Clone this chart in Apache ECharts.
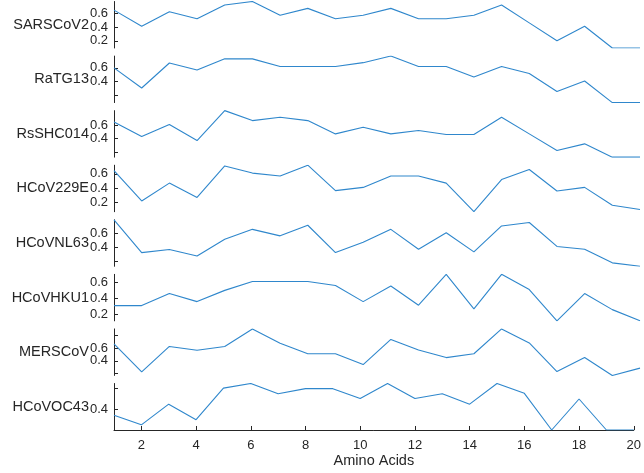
<!DOCTYPE html>
<html>
<head>
<meta charset="utf-8">
<script src="https://cdn.jsdelivr.net/npm/echarts@6/dist/echarts.min.js"></script>
<style>
html, body { margin: 0; padding: 0; background: #fff; }
#main { width: 644px; height: 473px; }
</style>
</head>
<body>
<div id="main"></div>
<script>
// x轴: 氨基酸位置
var aminoAcids = [1, 2, 3, 4, 5, 6, 7, 8, 9, 10, 11, 12, 13, 14, 15, 16, 17, 18, 19, 20];
var xTickLabels = [2, 4, 6, 8, 10, 12, 14, 16, 18, 20];

// 每个病毒一条曲线
var virusNames = ['SARSCoV2', 'RaTG13', 'RsSHC014', 'HCoV229E', 'HCoVNL63', 'HCoVHKU1', 'MERSCoV', 'HCoVOC43'];
var sarsCoV2 = [0.645, 0.41, 0.62, 0.52, 0.72, 0.77, 0.57, 0.67, 0.52, 0.57, 0.67, 0.52, 0.52, 0.57, 0.72, 0.46, 0.2, 0.41, 0.095, 0.095];
var raTG13 = [0.6, 0.31, 0.67, 0.57, 0.73, 0.73, 0.62, 0.62, 0.62, 0.675, 0.77, 0.62, 0.62, 0.47, 0.62, 0.52, 0.26, 0.41, 0.1, 0.1];
var rsSHC014 = [0.65, 0.43, 0.61, 0.37, 0.82, 0.67, 0.72, 0.67, 0.47, 0.57, 0.47, 0.52, 0.46, 0.46, 0.72, 0.47, 0.22, 0.32, 0.12, 0.12];
var hCoV229E = [0.645, 0.22, 0.47, 0.27, 0.71, 0.61, 0.57, 0.72, 0.365, 0.41, 0.57, 0.57, 0.47, 0.07, 0.52, 0.66, 0.36, 0.41, 0.16, 0.1];
var hCoVNL63 = [0.8, 0.32, 0.365, 0.27, 0.515, 0.66, 0.565, 0.72, 0.32, 0.47, 0.66, 0.37, 0.61, 0.33, 0.71, 0.76, 0.41, 0.37, 0.17, 0.12];
var hCoVHKU1 = [0.31, 0.31, 0.46, 0.36, 0.5, 0.61, 0.61, 0.61, 0.56, 0.36, 0.555, 0.315, 0.7, 0.27, 0.7, 0.51, 0.12, 0.46, 0.26, 0.12];
var mersCoV = [0.665, 0.225, 0.625, 0.565, 0.625, 0.9, 0.675, 0.51, 0.51, 0.34, 0.735, 0.57, 0.45, 0.51, 0.9, 0.68, 0.23, 0.45, 0.17, 0.285];
var hCoVOC43 = [0.343, 0.25, 0.45, 0.3, 0.605, 0.65, 0.55, 0.6, 0.6, 0.505, 0.65, 0.505, 0.55, 0.45, 0.65, 0.555, 0.2, 0.5, 0.2, 0.2];
var seriesValues = [sarsCoV2, raTG13, rsSHC014, hCoV229E, hCoVNL63, hCoVHKU1, mersCoV, hCoVOC43];

// y轴刻度 (有的刻度没有标签)
var yTickValues = [
	[0.2, 0.4, 0.6], [0.2, 0.4, 0.6], [0.2, 0.4, 0.6], [0.2, 0.4, 0.6],
	[0.2, 0.4, 0.6], [0.2, 0.4, 0.6], [0.2, 0.4, 0.6, 0.8], [0.2, 0.4, 0.6]
];
var yLabelValues = [
	[0.2, 0.4, 0.6], [0.4, 0.6], [0.4, 0.6], [0.2, 0.4, 0.6],
	[0.4, 0.6], [0.2, 0.4, 0.6], [0.4, 0.6], [0.4]
];

var textColor = '#262626';
var fontFamily = 'Liberation Sans, Arial, Helvetica, sans-serif';

// 只给指定刻度显示文字
function makeLabelFormatter(shown) {
	return function(value) {
		for (var j = 0; j < shown.length; j++) {
			if (Math.abs(shown[j] - value) < 1e-6) {
				return value.toFixed(1);
			}
		}
		return '';
	};
}

var grids = [], xAxes = [], yAxes = [], series = [];
for (var i = 0; i < virusNames.length; i++) {
	var isLast = (i == virusNames.length - 1);
	grids.push({
		left: 114,
		right: 4,
		top: 1.5 + i * 54.57,
		height: 46.5
	});
	xAxes.push({
		type: 'value',
		gridIndex: i,
		min: 1,
		max: 20,
		show: isLast,
		name: isLast ? 'Amino Acids' : '',
		nameLocation: 'middle',
		nameGap: 24,
		nameMoveOverlap: false,
		nameTextStyle: { color: textColor, fontSize: 14.5, fontFamily: fontFamily },
		axisLine: { show: true, lineStyle: { color: textColor, width: 1 } },
		axisTick: { show: true, inside: true, length: 4, customValues: xTickLabels, lineStyle: { color: textColor } },
		axisLabel: { show: true, customValues: xTickLabels, color: textColor, fontSize: 13, margin: 9, fontFamily: fontFamily, hideOverlap: false },
		splitLine: { show: false }
	});
	yAxes.push({
		type: 'value',
		gridIndex: i,
		min: 'dataMin',
		max: 'dataMax',
		name: virusNames[i],
		nameLocation: 'middle',
		nameRotate: 0,
		nameGap: 25,
		nameMoveOverlap: false,
		nameTextStyle: { color: textColor, fontSize: 14.5, fontFamily: fontFamily, align: 'right', verticalAlign: 'middle' },
		axisLine: { show: true, lineStyle: { color: textColor, width: 1 } },
		axisTick: { show: true, inside: true, length: 4, customValues: yTickValues[i], lineStyle: { color: textColor } },
		axisLabel: {
			show: true, customValues: yTickValues[i], formatter: makeLabelFormatter(yLabelValues[i]),
			color: textColor, fontSize: 13, margin: 6, fontFamily: fontFamily, hideOverlap: false
		},
		splitLine: { show: false }
	});
	var pts = [];
	for (var k = 0; k < aminoAcids.length; k++) {
		pts.push([aminoAcids[k], seriesValues[i][k]]);
	}
	series.push({
		name: virusNames[i],
		type: 'line',
		xAxisIndex: i,
		yAxisIndex: i,
		data: pts,
		showSymbol: false,
		lineStyle: { color: '#2f87cc', width: 1.1 }
	});
}

var myChart = echarts.init(document.getElementById('main'));
var option = {
	animation: false,
	backgroundColor: '#fff',
	grid: grids,
	xAxis: xAxes,
	yAxis: yAxes,
	series: series
};
myChart.setOption(option);
</script>
</body>
</html>
